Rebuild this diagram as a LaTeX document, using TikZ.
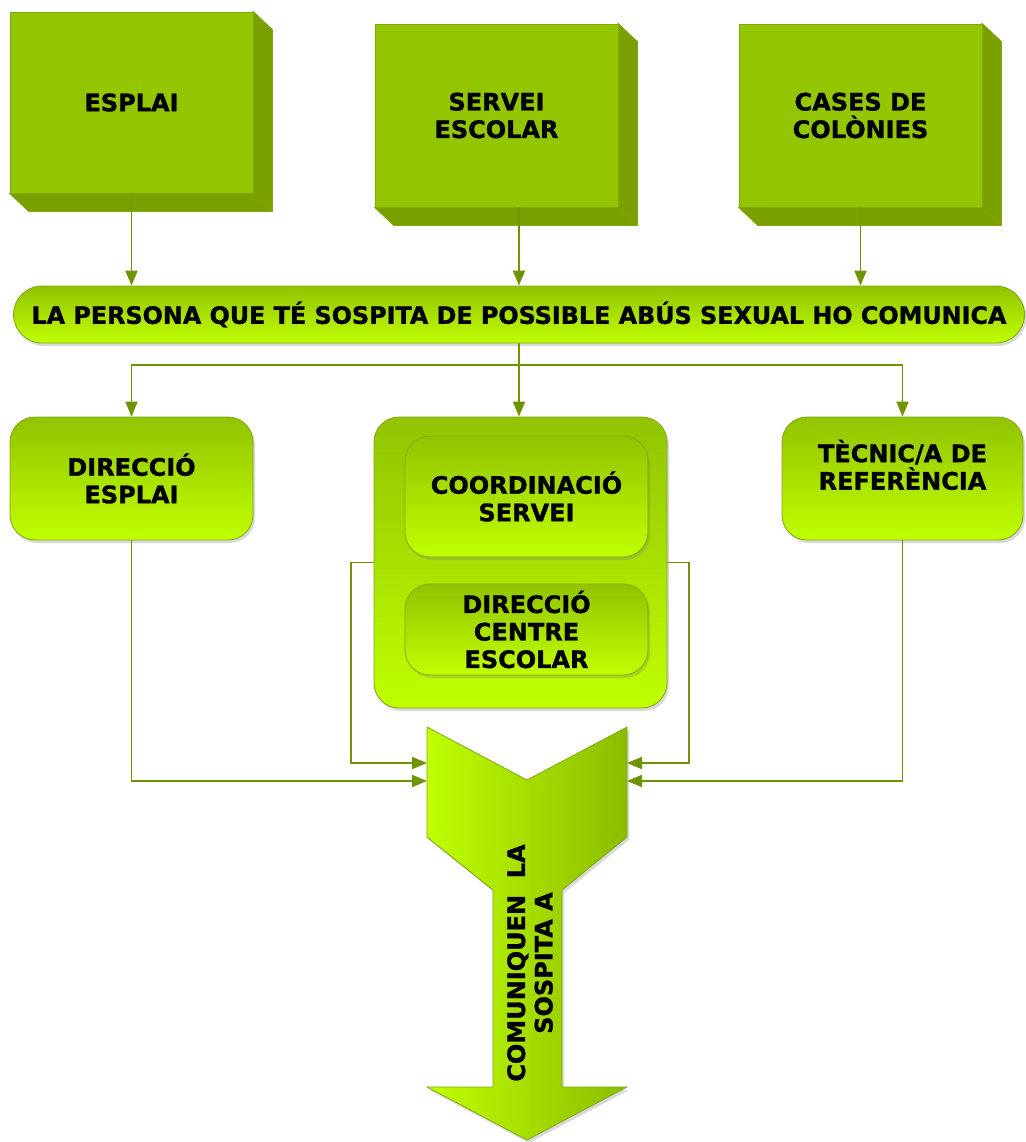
\documentclass[tikz,border=0pt]{standalone}
\usepackage{fontspec}
\setmainfont{DejaVu Sans}[BoldFeatures={FakeBold=1.2}]
\usepackage{graphicx}
\usepackage{tikz}
\usetikzlibrary{arrows.meta,shadows,backgrounds}

\definecolor{boxfront}{RGB}{148,198,0}
\definecolor{boxside}{RGB}{122,160,0}
\definecolor{boxedge}{RGB}{128,168,16}
\definecolor{grtop}{RGB}{146,195,0}
\definecolor{grbot}{RGB}{192,255,0}
\definecolor{grdark}{RGB}{140,188,0}
\definecolor{linkcol}{RGB}{112,148,0}

\tikzset{
 txt/.style={font=\fontsize{24}{27.5}\selectfont\bfseries,align=center,inner sep=0pt},
 face/.style={txt,fill=boxfront,draw=boxedge,line width=0.8pt,minimum width=243pt},
 sideface/.style={fill=boxside,draw=boxedge,line width=0.8pt},
 shadowed/.style={drop shadow={shadow xshift=2pt,shadow yshift=-3pt,opacity=0.3}},
 roundbox/.style={txt,shadowed,top color=grtop,bottom color=grbot,draw=boxedge,line width=0.8pt,rounded corners=25pt},
 link/.style={draw=linkcol,line width=1.9pt,-{Triangle[length=15pt,width=12pt]}}
}

\begin{document}
\begin{tikzpicture}[x=1pt,y=-1pt]
\useasboundingbox (0,0) rectangle (1025,1142);

\begin{scope} %top boxes
 \foreach \n/\cx/\cy/\h/\t in {esplai/131.5/102.5/181/ESPLAI,
   servei/496.5/115.5/183/{SERVEI\\ESCOLAR},
   cases/860.5/115.5/183/{CASES DE\\COLÒNIES}}
 {
  \node[face,minimum height=\h pt] (\n) at (\cx,\cy) {\t};
  \begin{scope}[on background layer]
   \draw[sideface] (\n.north east) -- ++(19,18) |- ([shift={(19,18)}]\n.south west)
     -- (\n.south west) -- cycle;
  \end{scope}
  \draw[boxedge,line width=0.8pt] (\n.south east) -- ++(19,18);
 }
\end{scope}

\node[roundbox,rounded corners=28.5pt,minimum width=1011pt,minimum height=57pt] (banner) at (519,314.5)
 {\resizebox{975pt}{!}{LA PERSONA QUE TÉ SOSPITA DE POSSIBLE ABÚS SEXUAL HO COMUNICA}};

\draw[link] (esplai.south) -- (esplai.south |- banner.north);
\draw[link] (banner.north |- servei.south) -- (banner.north);
\draw[link] (cases.south) -- (cases.south |- banner.north);

\begin{scope} %middle row
 \node[roundbox,minimum width=243pt,minimum height=123pt] (desp) at (131.5,478.5) {DIRECCIÓ\\ESPLAI};
 \node[roundbox,minimum width=293pt,minimum height=291pt] (cont) at (520.5,562.5) {};
 \node[roundbox,minimum width=243pt,minimum height=121pt] (coord) at (526.5,496.5) {COORDINACIÓ\\SERVEI};
 \node[roundbox,minimum width=243pt,minimum height=91pt] (dcentre) at (526.5,629.5) {DIRECCIÓ\\CENTRE\\ESCOLAR};
 \node[roundbox,minimum width=241pt,minimum height=123pt] (tecnic) at (902.5,478.5) {TÈCNIC/A DE\\REFERÈNCIA\\\mbox{}};
\end{scope}

\draw[link] (banner.south) -- ++(0,22) -| (desp.north);
\draw[link] (banner.south) -- (banner.south |- cont.north);
\draw[link] (banner.south) -- ++(0,22) -| (tecnic.north);

\begin{scope} %big arrow
 \coordinate (inA) at (427,763);
 \coordinate (inB) at (427,781);
 \coordinate (inC) at (627,763);
 \coordinate (inD) at (627,781);
 \path[shadowed,left color=grbot,right color=grdark,draw=boxedge,line width=0.8pt]
  (427,727) -- (527,780) -- (627,727) -- (627,837) -- (562,890) -- (562,1087)
  -- (627,1087) -- (527,1140) -- (427,1087) -- (493,1087) -- (493,890) -- (427,837) -- cycle;
 \node[txt,rotate=90] (arrowtext) at (530,963) {COMUNIQUEN~~LA\\SOSPITA A};
\end{scope}

\draw[link] (desp.south) |- (inB);
\draw[link] (cont.west) -- ++(-23,0) |- (inA);
\draw[link] (cont.east) -- ++(22,0) |- (inC);
\draw[link] (tecnic.south) |- (inD);

\end{tikzpicture}
\end{document}
